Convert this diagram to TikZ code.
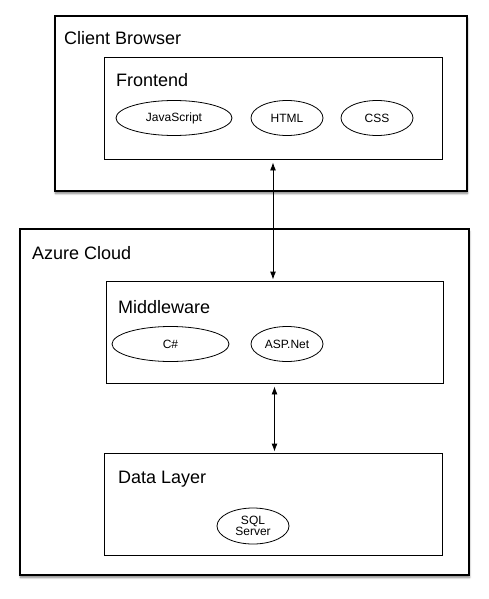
\documentclass[tikz,border=0pt]{standalone}
\usepackage{fontspec}
\setmainfont{Liberation Sans}
\usetikzlibrary{shapes.geometric,arrows.meta,shadows.blur}
\newcommand{\bigtxt}{\fontsize{18}{20}\selectfont}
\newcommand{\smalltxt}{\fontsize{12}{13}\selectfont}

\begin{document}
\begin{tikzpicture}[x=1pt,y=-1pt,
    outerbox/.style={draw,line width=1.2pt,fill=white,rectangle,inner sep=0pt,
        blur shadow={shadow xshift=0.5pt,shadow yshift=-2.5pt,shadow blur steps=6,shadow opacity=50}},
    innerbox/.style={draw,line width=0.9pt,rectangle,inner sep=0pt},
    oval/.style={draw,ellipse,line width=0.8pt,inner sep=0pt,minimum height=35pt,font=\smalltxt,align=center},
    title/.style={anchor=west,inner sep=0pt,font=\bigtxt},
    link/.style={{Latex[length=8pt,width=6pt]}-{Latex[length=8pt,width=6pt]},line width=0.9pt,shorten <=3pt,shorten >=1pt}]
    \useasboundingbox (0,0) rectangle (489,599);
            % client side
            \node[outerbox,minimum width=412pt,minimum height=175pt] (client) at (261,103.5){};
            \node[title] (clientlbl) at (64,38){Client Browser};
            \node[innerbox,minimum width=338pt,minimum height=102pt] (frontend) at (273,108){};
            \node[title] (frontendlbl) at (116,80){Frontend};
            \node[oval,minimum width=116pt] (js) at (174,118){JavaScript};
            \node[oval,minimum width=72pt] (html) at (287,118){HTML};
            \node[oval,minimum width=72pt] (css) at (377,118){CSS};
            % cloud side
            \node[outerbox,minimum width=449pt,minimum height=346pt] (azure) at (244.5,402){};
            \node[title] (azurelbl) at (32,253){Azure Cloud};
            \node[innerbox,minimum width=337pt,minimum height=102pt] (middleware) at (274.5,332){};
            \node[title] (middlewarelbl) at (118,307){Middleware};
            \node[oval,minimum width=117pt] (csharp) at (170.5,344){C\#};
            \node[oval,minimum width=72pt] (aspnet) at (287,344){ASP.Net};
            \node[innerbox,minimum width=338pt,minimum height=102pt] (datalayer) at (273,504){};
            \node[title] (datalbl) at (118,479){Data Layer};
            \node[oval,minimum width=72pt,minimum height=36pt] (sql) at (253,526){SQL\\[-2pt]Server};
            % connectors
            \draw[link] (frontend.south) -- (frontend.south |- middleware.north);
            \draw[link] (middleware.south) -- (middleware.south |- datalayer.north);
\end{tikzpicture}
\end{document}
